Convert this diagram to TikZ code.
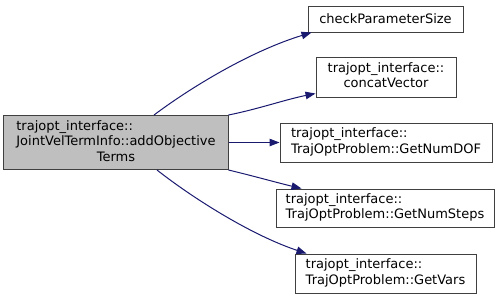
\documentclass[tikz,border=0pt]{standalone}
\usepackage{fontspec}
\setmainfont{DejaVu Sans}
\usetikzlibrary{arrows.meta}
\definecolor{edgeblue}{HTML}{191970}
\definecolor{boxline}{HTML}{404040}
\definecolor{mainfill}{HTML}{BFBFBF}
\newcommand{\lbl}[1]{\begin{tabular}{@{}l@{}}#1\end{tabular}}
\newcommand{\cbl}[1]{\begin{tabular}{@{}c@{}}#1\end{tabular}}
\begin{document}
\begin{tikzpicture}[x=1bp,y=-1bp,
  font=\fontsize{13bp}{15.5bp}\selectfont,
  fnbox/.style={draw=boxline,line width=1bp,fill=white,rectangle,inner sep=0pt},
  callee/.style={draw=edgeblue,line width=1bp,-{Triangle[length=10bp,width=7.5bp]},fill=none}]
\useasboundingbox (0,0) rectangle (501,299);
\renewcommand{\arraystretch}{1}

% caller
\node[fnbox,fill=mainfill,minimum width=224bp,minimum height=54bp] (main) at (116,142.5)
  {\begin{tabular}{@{}l@{}}trajopt\_interface::\\JointVelTermInfo::addObjective\\\multicolumn{1}{@{}c@{}}{Terms}\end{tabular}};

% callees
\node[fnbox,minimum width=155bp,minimum height=26bp] (check) at (385.5,19) {checkParameterSize};
\node[fnbox,minimum width=140bp,minimum height=40bp] (concat) at (386,77) {\cbl{trajopt\_interface::\\concatVector}};
\node[fnbox,minimum width=212bp,minimum height=39bp] (dof) at (386,142.5) {\lbl{trajopt\_interface::\\TrajOptProblem::GetNumDOF}};
\node[fnbox,minimum width=218bp,minimum height=38bp] (steps) at (385,208) {\lbl{trajopt\_interface::\\TrajOptProblem::GetNumSteps}};
\node[fnbox,minimum width=181bp,minimum height=39bp] (vars) at (385.5,273.5) {\lbl{trajopt\_interface::\\TrajOptProblem::GetVars}};

% calls
\draw[callee] ([xshift=38bp]main.north) .. controls +(36,-27) and +(-62,19) .. ([xshift=4bp]check.south west);
\draw[callee] (main.north east) .. controls +(30,-6) and +(-30,6) .. ([yshift=4bp]concat.south west);
\draw[callee] (main.east) -- (dof.west);
\draw[callee] (main.south east) .. controls +(25,6) and +(-25,-6) .. ([xshift=26bp]steps.north west);
\draw[callee] ([xshift=41bp]main.south) .. controls +(33,26) and +(-57,-19) .. ([xshift=12bp]vars.north west);
\end{tikzpicture}
\end{document}
